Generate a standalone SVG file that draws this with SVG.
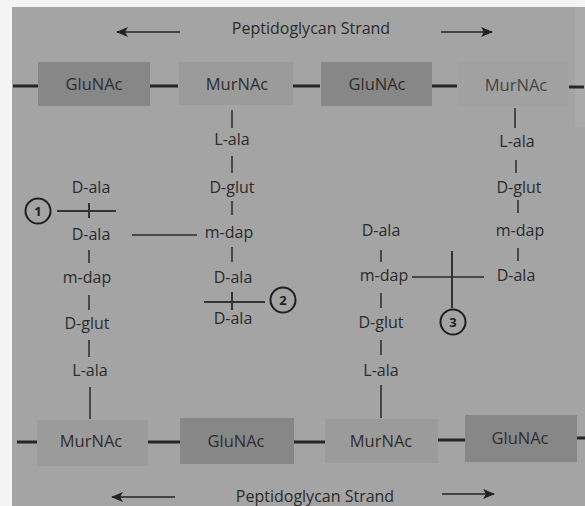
<svg xmlns="http://www.w3.org/2000/svg" width="585" height="506" viewBox="0 0 585 506">
<defs>
<style>
.t{font-family:"Open Sans","DejaVu Sans",sans-serif;font-size:16px;fill:#2b2b2b;text-anchor:middle}
.b{font-family:"Open Sans","DejaVu Sans",sans-serif;font-size:16.5px;fill:#2e2e2e;text-anchor:middle}
.glu{fill:#878787}
.mur{fill:#9b9b9b}
.strand{stroke:#262626;stroke-width:3;fill:none}
.bond{stroke:#2a2a2a;stroke-width:1.5;fill:none}
.cut{stroke:#333;stroke-width:2;fill:none}
.circ{stroke:#1e1e1e;stroke-width:2;fill:none}
.num{font-family:"Open Sans","DejaVu Sans",sans-serif;font-size:13px;font-weight:bold;fill:#1e1e1e;text-anchor:middle}
.arr{stroke:#222;stroke-width:1.5;fill:none}
</style>
<marker id="ah" viewBox="0 0 12 10" refX="11" refY="5" markerWidth="12" markerHeight="10" markerUnits="userSpaceOnUse" orient="auto">
<path d="M0,0 L12,5 L0,10 L3,5 Z" fill="#222"/>
</marker>
</defs>
<rect width="585" height="506" fill="#f4f4f4"/>
<rect x="12" y="7" width="573" height="499" fill="#a4a4a4"/>
<rect x="575" y="7" width="10" height="120" fill="#aaaaaa"/>

<g id="title-top">
<text class="t" x="311" y="34">Peptidoglycan Strand</text>
<line class="arr" x1="180" y1="32" x2="117" y2="32" marker-end="url(#ah)"/>
<line class="arr" x1="441" y1="32" x2="492" y2="32" marker-end="url(#ah)"/>
</g>
<g id="title-bottom">
<text class="t" x="315" y="502">Peptidoglycan Strand</text>
<line class="arr" x1="175" y1="497" x2="112" y2="497" marker-end="url(#ah)"/>
<line class="arr" x1="442" y1="494" x2="494" y2="494" marker-end="url(#ah)"/>
</g>

<g id="connectors">
<line class="strand" x1="13" y1="86" x2="38" y2="86"/>
<line class="strand" x1="150" y1="86" x2="178" y2="86"/>
<line class="strand" x1="293" y1="86" x2="320" y2="86"/>
<line class="strand" x1="432" y1="86" x2="457" y2="86"/>
<line class="strand" x1="569" y1="87" x2="584" y2="87"/>
<line class="strand" x1="17" y1="442" x2="37" y2="442"/>
<line class="strand" x1="148" y1="442" x2="180" y2="442"/>
<line class="strand" x1="294" y1="442" x2="325" y2="442"/>
<line class="strand" x1="438" y1="440" x2="465" y2="440"/>
<line class="strand" x1="577" y1="438" x2="585" y2="438"/>
<!-- chain 2 -->
<line class="bond" x1="232" y1="110" x2="232" y2="128"/>
<line class="bond" x1="232" y1="156" x2="232" y2="173"/>
<line class="bond" x1="232" y1="201" x2="232" y2="215"/>
<line class="bond" x1="232" y1="247" x2="232" y2="262"/>
<!-- chain 1 -->
<line class="bond" x1="89" y1="250" x2="89" y2="263"/>
<line class="bond" x1="89" y1="295" x2="89" y2="310"/>
<line class="bond" x1="89" y1="340" x2="89" y2="357"/>
<line class="bond" x1="90" y1="387" x2="90" y2="419"/>
<!-- chain 3 -->
<line class="bond" x1="381" y1="250" x2="381" y2="262"/>
<line class="bond" x1="381" y1="293" x2="381" y2="308"/>
<line class="bond" x1="381" y1="340" x2="381" y2="355"/>
<line class="bond" x1="381" y1="385" x2="381" y2="418"/>
<!-- chain 4 -->
<line class="bond" x1="515" y1="108" x2="515" y2="128"/>
<line class="bond" x1="516" y1="160" x2="516" y2="173"/>
<line class="bond" x1="518" y1="200" x2="518" y2="213"/>
<line class="bond" x1="518" y1="248" x2="518" y2="261"/>
<!-- crosslinks -->
<line class="bond" x1="132" y1="235" x2="197" y2="235"/>
<line class="bond" x1="412" y1="277" x2="484" y2="277"/>
<!-- cut marks -->
<line class="cut" x1="57" y1="211" x2="116" y2="211"/>
<line class="cut" x1="89" y1="203" x2="89" y2="218"/>
<line class="cut" x1="204" y1="302" x2="265" y2="302"/>
<line class="cut" x1="232" y1="292" x2="232" y2="310"/>
<line class="cut" x1="452" y1="251" x2="452" y2="308"/>
</g>

<g id="glunac-top-1"><rect class="glu" x="38" y="62" width="112" height="44"/><text class="b" x="94" y="90">GluNAc</text></g>
<g id="murnac-top-1"><rect class="mur" x="179" y="62" width="114" height="43"/><text class="b" x="237" y="90">MurNAc</text></g>
<g id="glunac-top-2"><rect class="glu" x="321" y="62" width="111" height="44"/><text class="b" x="377" y="90">GluNAc</text></g>
<g id="murnac-top-2"><rect fill="#a1a1a1" x="458" y="62" width="110" height="44"/><text class="b" x="516" y="91" style="fill:#444">MurNAc</text></g>

<g id="murnac-bot-1"><rect class="mur" x="37" y="420" width="111" height="46"/><text class="b" x="91" y="447">MurNAc</text></g>
<g id="glunac-bot-1"><rect class="glu" x="180" y="418" width="114" height="46"/><text class="b" x="236" y="447">GluNAc</text></g>
<g id="murnac-bot-2"><rect class="mur" x="325" y="419" width="113" height="44"/><text class="b" x="381" y="447">MurNAc</text></g>
<g id="glunac-bot-2"><rect class="glu" x="465" y="415" width="112" height="47"/><text class="b" x="520" y="444">GluNAc</text></g>

<g id="chain-1">
<text class="t" x="91" y="193">D-ala</text>
<text class="t" x="91" y="240">D-ala</text>
<text class="t" x="87" y="283">m-dap</text>
<text class="t" x="87" y="329">D-glut</text>
<text class="t" x="90" y="376">L-ala</text>
</g>
<g id="chain-2">
<text class="t" x="232" y="145">L-ala</text>
<text class="t" x="232" y="193">D-glut</text>
<text class="t" x="229" y="238">m-dap</text>
<text class="t" x="233" y="283">D-ala</text>
<text class="t" x="233" y="324">D-ala</text>
</g>
<g id="chain-3">
<text class="t" x="381" y="236">D-ala</text>
<text class="t" x="384" y="281">m-dap</text>
<text class="t" x="381" y="328">D-glut</text>
<text class="t" x="381" y="376">L-ala</text>
</g>
<g id="chain-4">
<text class="t" x="517" y="147">L-ala</text>
<text class="t" x="519" y="193">D-glut</text>
<text class="t" x="520" y="236">m-dap</text>
<text class="t" x="516" y="281">D-ala</text>
</g>

<g id="marker-1"><circle class="circ" cx="38" cy="211" r="12.5"/><text class="num" x="38" y="216">1</text></g>
<g id="marker-2"><circle class="circ" cx="283" cy="300" r="12.5"/><text class="num" x="283" y="305">2</text></g>
<g id="marker-3"><circle class="circ" cx="453" cy="322" r="12.5"/><text class="num" x="453" y="327">3</text></g>
</svg>
